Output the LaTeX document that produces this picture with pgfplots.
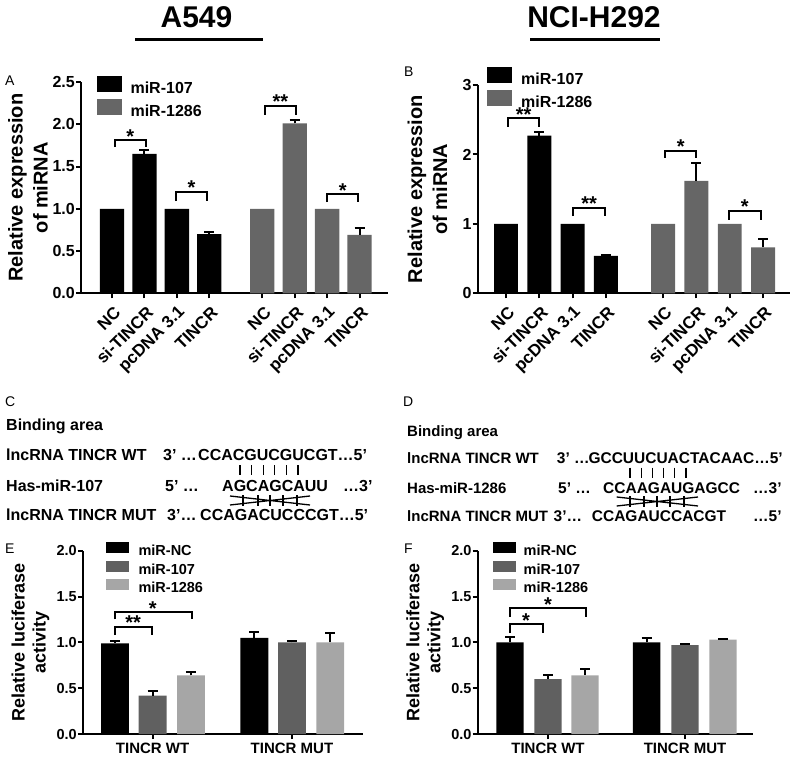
\documentclass[border=0pt]{standalone}
\usepackage{pgfplots}
\pgfplotsset{compat=1.18}
\usepackage{fontspec}
\setmainfont{Liberation Sans}
\definecolor{gA}{RGB}{102,102,102}
\definecolor{gD}{RGB}{96,96,96}
\definecolor{gL}{RGB}{166,166,166}

\pgfplotsset{
  gp/.style={
    scale only axis, anchor=south west, clip=false,
    axis x line*=bottom, axis y line*=left,
    axis line style={line width=2pt,-},
    major tick style={line width=2pt, black},
    major tick length=5pt,
    tick align=outside,
    ymin=0,
    /pgf/number format/assume math mode=true,
    legend cell align=left,
  },
  bb/.style={ybar, bar shift=0pt, draw=none, forget plot, fill=#1},
  eb/.style={error bars/.cd, y dir=plus, y explicit,
    error bar style={line width=2pt, black},
    error mark options={black, line width=2pt, mark size=5pt, rotate=90}},
  rotlab/.style={xticklabel style={xshift=7pt, yshift=-10pt, rotate=45, anchor=east, inner sep=2pt, font=\fontsize{17}{17}\selectfont\bfseries}},
}
\tikzset{sigstar/.style={font=\fontsize{20}{20}\selectfont\bfseries, anchor=base, inner sep=0pt, yshift=-3pt}}
\newcommand{\brk}[4]{\draw[line width=2pt] (axis cs:#1,#4) -- (axis cs:#1,#3) -- (axis cs:#2,#3) -- (axis cs:#2,#4);}
\newcommand{\lboxA}[1]{\addlegendimage{legend image code/.code={\fill[#1] (0pt,-2pt) rectangle (24pt,13pt);}}}
\newcommand{\lboxE}[1]{\addlegendimage{legend image code/.code={\fill[#1] (0pt,-0.5pt) rectangle (22pt,9.5pt);}}}
\newcommand{\seqf}{\fontsize{16}{16}\selectfont\bfseries}
\newcommand{\seqd}{\fontsize{15}{15}\selectfont\bfseries}
\newcommand{\seqdd}{\fontsize{15.5}{15.5}\selectfont\bfseries}

\begin{document}
\begin{tikzpicture}
\useasboundingbox (0,0) rectangle (800pt,-765pt);

% ---------- titles ----------
\node[font=\fontsize{30}{30}\selectfont\bfseries, anchor=base, inner sep=0pt] at (196.5pt,-28pt) {A549};
\draw[line width=3pt] (135pt,-40pt) -- (263pt,-40pt);
\node[font=\fontsize{30}{30}\selectfont\bfseries, anchor=base, inner sep=0pt] at (594pt,-28pt) {NCI-H292};
\draw[line width=3pt] (530pt,-40pt) -- (660pt,-40pt);

% ---------- panel letters ----------
\begin{scope}[every node/.style={font=\fontsize{14}{14}\selectfont, anchor=base west, inner sep=0pt}]
\node at (5pt,-86pt) {A};
\node at (404pt,-77pt) {B};
\node at (5pt,-406pt) {C};
\node at (403pt,-406pt) {D};
\node at (5pt,-553pt) {E};
\node at (404pt,-553pt) {F};
\end{scope}

% ---------- Panel A ----------
\begin{axis}[gp, rotlab, at={(81pt,-293.3pt)}, width=307pt, height=211.3pt,
  xmin=-0.96, xmax=8.52, ymax=2.5,
  ytick={0,0.5,1,1.5,2,2.5},
  yticklabel style={/pgf/number format/fixed, /pgf/number format/fixed zerofill, /pgf/number format/precision=1,
     font=\fontsize{16}{16}\selectfont\bfseries, inner xsep=1pt},
  xtick={0,1,2,3,4.64,5.64,6.64,7.64},
  xticklabels={NC,si-TINCR,pcDNA 3.1,TINCR,NC,si-TINCR,pcDNA 3.1,TINCR},
  ylabel={Relative expression\\of miRNA},
  ylabel style={at={(axis description cs:-0.173,0.5)}, anchor=center, align=center, font=\fontsize{20}{25}\selectfont\bfseries},
  legend style={draw=none, fill=none, inner sep=0pt, at={(axis description cs:0.052,1.028)}, anchor=north west,
     font=\fontsize{16}{16}\selectfont\bfseries, row sep=2.5pt, column sep=9pt,
     nodes={inner sep=0pt, text height=11.5pt, text depth=3.5pt}},
]
\addplot[bb=black, bar width=0.75] coordinates {(0,1.0) (2,1.0)};
\addplot[bb=black, bar width=0.75, eb] coordinates {(1,1.65) +- (0,0.04) (3,0.70) +- (0,0.02)};
\addplot[bb=gA, bar width=0.75] coordinates {(4.64,1.0) (6.64,1.0)};
\addplot[bb=gA, bar width=0.75, eb] coordinates {(5.64,2.01) +- (0,0.04) (7.64,0.69) +- (0,0.08)};
\lboxA{black}\addlegendentry{miR-107}
\lboxA{gA}\addlegendentry{miR-1286}
\brk{0.09}{1.04}{1.81}{1.73}
\node[sigstar] at (axis cs:0.56,1.81) {*};
\brk{1.97}{2.92}{1.20}{1.09}
\node[sigstar] at (axis cs:2.45,1.20) {*};
\brk{4.72}{5.68}{2.22}{2.11}
\node[sigstar] at (axis cs:5.20,2.22) {**};
\brk{6.65}{7.60}{1.17}{1.08}
\node[sigstar] at (axis cs:7.12,1.17) {*};
\end{axis}

% ---------- Panel B ----------
\begin{axis}[gp, rotlab, at={(477.7pt,-293.3pt)}, width=312.3pt, height=208.3pt,
  xmin=-0.85, xmax=8.53, ymax=3,
  ytick={0,1,2,3},
  yticklabel style={font=\fontsize{16}{16}\selectfont\bfseries, inner xsep=1pt},
  xtick={0,1,2,3,4.72,5.72,6.72,7.72},
  xticklabels={NC,si-TINCR,pcDNA 3.1,TINCR,NC,si-TINCR,pcDNA 3.1,TINCR},
  ylabel={Relative expression\\of miRNA},
  ylabel style={at={(axis description cs:-0.161,0.5)}, anchor=center, align=center, font=\fontsize{20}{25}\selectfont\bfseries},
  legend style={draw=none, fill=none, inner sep=0pt, at={(axis description cs:0.030,1.086)}, anchor=north west,
     font=\fontsize{16}{16}\selectfont\bfseries, row sep=2.5pt, column sep=9.5pt,
     nodes={inner sep=0pt, text height=11.5pt, text depth=3.5pt}},
]
\addplot[bb=black, bar width=0.72] coordinates {(0,1.0) (2,1.0)};
\addplot[bb=black, bar width=0.72, eb] coordinates {(1,2.27) +- (0,0.05) (3,0.54) +- (0,0.01)};
\addplot[bb=gA, bar width=0.72] coordinates {(4.72,1.0) (6.72,1.0)};
\addplot[bb=gA, bar width=0.72, eb] coordinates {(5.72,1.62) +- (0,0.25) (7.72,0.66) +- (0,0.12)};
\lboxA{black}\addlegendentry{miR-107}
\lboxA{gA}\addlegendentry{miR-1286}
\brk{0.07}{1.00}{2.52}{2.40}
\node[sigstar] at (axis cs:0.53,2.52) {**};
\brk{2.02}{2.97}{1.23}{1.11}
\node[sigstar] at (axis cs:2.50,1.23) {**};
\brk{4.78}{5.71}{2.05}{1.95}
\node[sigstar] at (axis cs:5.25,2.05) {*};
\brk{6.69}{7.65}{1.19}{1.06}
\node[sigstar] at (axis cs:7.17,1.19) {*};
\end{axis}

% ---------- Panel C ----------
\begin{scope}[every node/.style={font=\seqf, anchor=base west, inner sep=0pt}]
\node at (6pt,-430.7pt) {Binding area};
\node at (6pt,-460pt) {lncRNA TINCR WT};
\node at (163pt,-460pt) {3’ …};
\node at (198pt,-460pt) {CCACGUCGUCGT…5’};
\node at (6pt,-491.7pt) {Has-miR-107};
\node at (165pt,-491.7pt) {5’ …};
\node at (222pt,-491.7pt) {AGCAGCAUU};
\node at (343pt,-491.7pt) {…3’};
\node at (6pt,-520pt) {lncRNA TINCR MUT};
\node at (167pt,-520pt) {3’…};
\node at (200pt,-520pt) {CCAGACUCCCGT…5’};
\end{scope}
% ---------- Panel D ----------
\begin{scope}[every node/.style={font=\seqd, anchor=base west, inner sep=0pt}]
\node at (407pt,-436.7pt) {Binding area};
\node at (407pt,-463.3pt) {lncRNA TINCR WT};
\node at (407pt,-493.3pt) {Has-miR-1286};
\node at (407pt,-521.7pt) {lncRNA TINCR MUT};
\end{scope}
\begin{scope}[every node/.style={font=\seqdd, anchor=base west, inner sep=0pt}]
\node at (556.7pt,-463.3pt) {3’ …};
\node at (588.3pt,-463.3pt) {GCCUUCUACTACAAC…5’};
\node at (558pt,-493.3pt) {5’ …};
\node at (603pt,-493.3pt) {CCAAGAUGAGCC};
\node at (753pt,-493.3pt) {…3’};
\node at (553.5pt,-521.7pt) {3’…};
\node at (591.7pt,-521.7pt) {CCAGAUCCACGT};
\node at (753pt,-521.7pt) {…5’};
\end{scope}
\begin{scope}[line width=1.3pt]
\foreach \x in {240,251.6,263.2,274.8,286.4,298} \draw (\x pt,-465pt) -- (\x pt,-475pt);
\draw (230pt,-496pt) -- (310pt,-505pt) (230pt,-505pt) -- (310pt,-496pt);
\foreach \x in {243,258,270,283,297} \draw (\x pt,-495pt) -- (\x pt,-506pt);
\foreach \x in {630,641.2,652.4,663.6,674.8,686} \draw (\x pt,-467.7pt) -- (\x pt,-477.7pt);
\draw (616.7pt,-497pt) -- (698pt,-506pt) (616.7pt,-506pt) -- (698pt,-497pt);
\foreach \x in {630,644,657,670,684} \draw (\x pt,-496pt) -- (\x pt,-507pt);
\end{scope}

% ---------- Panel E ----------
\begin{axis}[gp, at={(83pt,-734pt)}, width=280pt, height=183.3pt,
  xmin=-0.5, xmax=1.51, ymax=2,
  ytick={0,0.5,1,1.5,2},
  yticklabel style={/pgf/number format/fixed, /pgf/number format/fixed zerofill, /pgf/number format/precision=1,
     font=\fontsize{14.5}{14.5}\selectfont\bfseries, inner xsep=1pt},
  xtick={0,1}, xticklabels={TINCR WT,TINCR MUT},
  xticklabel style={font=\fontsize{15}{15}\selectfont\bfseries},
  ylabel={Relative luciferase\\activity},
  ylabel style={at={(axis description cs:-0.1875,0.5)}, anchor=center, align=center, font=\fontsize{18}{21}\selectfont\bfseries},
  legend style={draw=none, fill=none, inner sep=0pt, at={(axis description cs:0.082,1.0475)}, anchor=north west,
     font=\fontsize{14.5}{14.5}\selectfont\bfseries, row sep=2pt, column sep=10pt,
     nodes={inner sep=0pt, text height=10.5pt, text depth=3pt}},
]
\addplot[bb=black, bar width=0.2, eb] coordinates {(-0.27,0.99) +- (0,0.03) (0.73,1.05) +- (0,0.06)};
\addplot[bb=gD, bar width=0.2, eb] coordinates {(0,0.42) +- (0,0.05) (1,1.00) +- (0,0.01)};
\addplot[bb=gL, bar width=0.2, eb] coordinates {(0.275,0.64) +- (0,0.04) (1.275,1.00) +- (0,0.10)};
\lboxE{black}\addlegendentry{miR-NC}
\lboxE{gD}\addlegendentry{miR-107}
\lboxE{gL}\addlegendentry{miR-1286}
\brk{-0.273}{-0.007}{1.17}{1.08}
\node[sigstar] at (axis cs:-0.14,1.17) {**};
\brk{-0.273}{0.28}{1.33}{1.25}
\node[sigstar] at (axis cs:0.0,1.33) {*};
\end{axis}

% ---------- Panel F ----------
\begin{axis}[gp, at={(477.7pt,-734pt)}, width=275.3pt, height=183.3pt,
  xmin=-0.513, xmax=1.496, ymax=2,
  ytick={0,0.5,1,1.5,2},
  yticklabel style={/pgf/number format/fixed, /pgf/number format/fixed zerofill, /pgf/number format/precision=1,
     font=\fontsize{14.5}{14.5}\selectfont\bfseries, inner xsep=1pt},
  xtick={0,1}, xticklabels={TINCR WT,TINCR MUT},
  xticklabel style={font=\fontsize{15}{15}\selectfont\bfseries},
  ylabel={Relative luciferase\\activity},
  ylabel style={at={(axis description cs:-0.191,0.5)}, anchor=center, align=center, font=\fontsize{18}{21}\selectfont\bfseries},
  legend style={draw=none, fill=none, inner sep=0pt, at={(axis description cs:0.056,1.0475)}, anchor=north west,
     font=\fontsize{14.5}{14.5}\selectfont\bfseries, row sep=2pt, column sep=8pt,
     nodes={inner sep=0pt, text height=10.5pt, text depth=3pt}},
]
\addplot[bb=black, bar width=0.2, eb] coordinates {(-0.277,1.00) +- (0,0.055) (0.72,1.00) +- (0,0.045)};
\addplot[bb=gD, bar width=0.2, eb] coordinates {(0,0.60) +- (0,0.04) (1,0.97) +- (0,0.01)};
\addplot[bb=gL, bar width=0.2, eb] coordinates {(0.27,0.64) +- (0,0.07) (1.277,1.03) +- (0,0.01)};
\lboxE{black}\addlegendentry{miR-NC}
\lboxE{gD}\addlegendentry{miR-107}
\lboxE{gL}\addlegendentry{miR-1286}
\brk{-0.277}{-0.04}{1.20}{1.10}
\node[sigstar] at (axis cs:-0.16,1.20) {*};
\brk{-0.277}{0.28}{1.37}{1.28}
\node[sigstar] at (axis cs:0.0,1.37) {*};
\end{axis}
\end{tikzpicture}
\end{document}
